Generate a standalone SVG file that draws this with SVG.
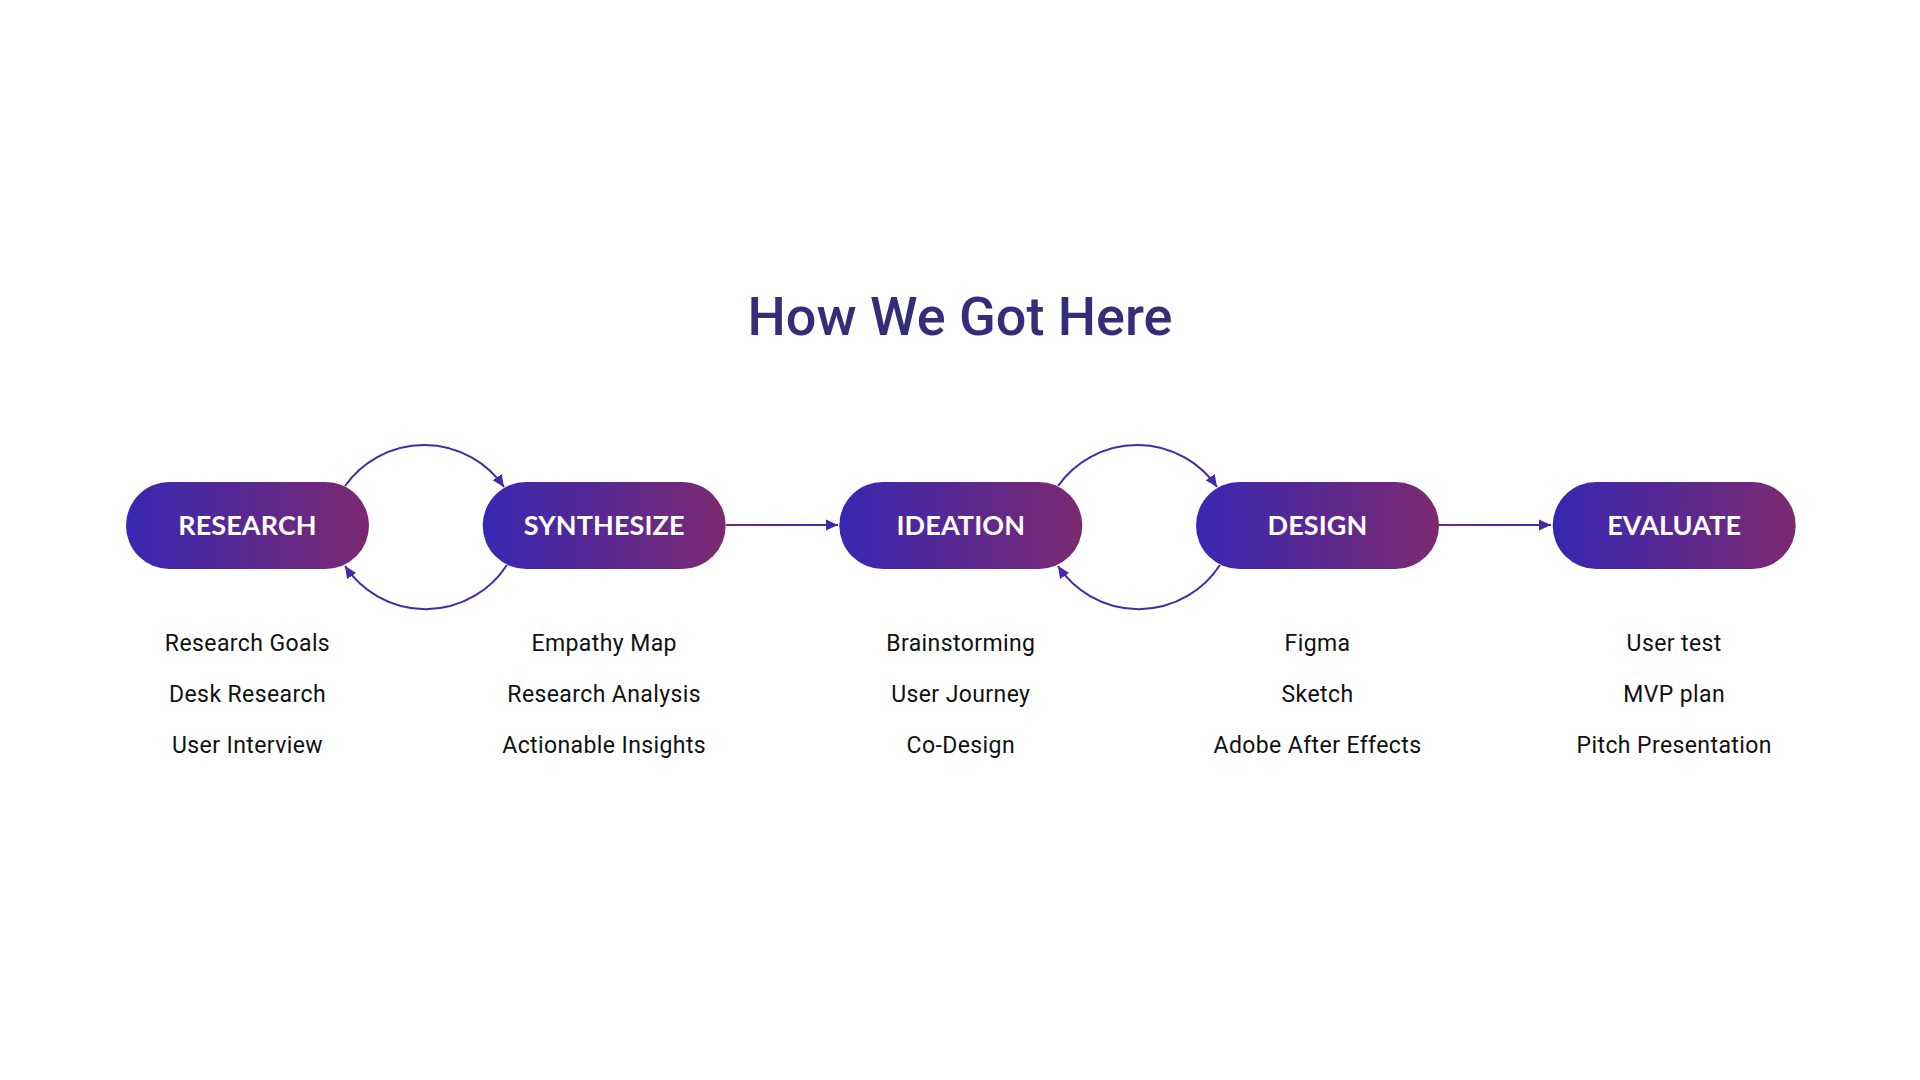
<svg xmlns="http://www.w3.org/2000/svg" width="1920" height="1080" viewBox="0 0 1920 1080">
  <defs>
    <linearGradient id="pillGrad" x1="0" y1="0" x2="1" y2="0">
      <stop offset="0" stop-color="#3827b2"/>
      <stop offset="1" stop-color="#7c2a70"/>
    </linearGradient>
    <linearGradient id="lineGrad1" gradientUnits="userSpaceOnUse" x1="726" y1="0" x2="839" y2="0">
      <stop offset="0" stop-color="#74297c"/>
      <stop offset="1" stop-color="#3b28b0"/>
    </linearGradient>
    <linearGradient id="lineGrad2" gradientUnits="userSpaceOnUse" x1="1439" y1="0" x2="1552" y2="0">
      <stop offset="0" stop-color="#74297c"/>
      <stop offset="1" stop-color="#3b28b0"/>
    </linearGradient>
    <marker id="arrow" markerUnits="userSpaceOnUse" markerWidth="13" markerHeight="13" refX="12" refY="6.5" orient="auto">
      <path d="M0,1 L12,6.5 L0,12 z" fill="#4428a8"/>
    </marker>
    <style>
      .pill { fill: url(#pillGrad); }
      .pilltext { font-family: Lato, "Open Sans", sans-serif; font-weight: 700; font-size: 27px; fill: #ffffff; text-anchor: middle; letter-spacing: 0.1px; }
      .item { font-family: Roboto, "Liberation Sans", sans-serif; font-size: 23px; fill: #111111; text-anchor: middle; letter-spacing: 0.4px; }
      .title { font-family: Roboto, "Liberation Sans", sans-serif; font-weight: 500; font-size: 54px; fill: #352c7a; text-anchor: middle; }
      .arc { fill: none; stroke: #4628a8; stroke-width: 2; }
    </style>
  </defs>
  <rect width="1920" height="1080" fill="#ffffff"/>

  <text class="title" x="960" y="335">How We Got Here</text>

  <g id="connectors">
    <path class="arc" d="M345,486 A97,97 0 0 1 504,487" marker-end="url(#arrow)"/>
    <path class="arc" d="M507,565 A97,97 0 0 1 345,566" marker-end="url(#arrow)"/>
    <line x1="726" y1="525" x2="838" y2="525" stroke="url(#lineGrad1)" stroke-width="2" marker-end="url(#arrow)"/>
    <path class="arc" d="M1058,486 A97,97 0 0 1 1217,487" marker-end="url(#arrow)"/>
    <path class="arc" d="M1220,565 A97,97 0 0 1 1058,566" marker-end="url(#arrow)"/>
    <line x1="1439" y1="525" x2="1551" y2="525" stroke="url(#lineGrad2)" stroke-width="2" marker-end="url(#arrow)"/>
  </g>

  <g id="node-research">
    <rect class="pill" x="126" y="482" width="243" height="87" rx="43.5"/>
    <text class="pilltext" x="247.5" y="535">RESEARCH</text>
    <text class="item" x="247.5" y="651">Research Goals</text>
    <text class="item" x="247.5" y="702">Desk Research</text>
    <text class="item" x="247.5" y="753">User Interview</text>
  </g>

  <g id="node-synthesize">
    <rect class="pill" x="482.7" y="482" width="243" height="87" rx="43.5"/>
    <text class="pilltext" x="604.2" y="535">SYNTHESIZE</text>
    <text class="item" x="604.2" y="651">Empathy Map</text>
    <text class="item" x="604.2" y="702">Research Analysis</text>
    <text class="item" x="604.2" y="753">Actionable Insights</text>
  </g>

  <g id="node-ideation">
    <rect class="pill" x="839.3" y="482" width="243" height="87" rx="43.5"/>
    <text class="pilltext" x="960.8" y="535">IDEATION</text>
    <text class="item" x="960.8" y="651">Brainstorming</text>
    <text class="item" x="960.8" y="702">User Journey</text>
    <text class="item" x="960.8" y="753">Co-Design</text>
  </g>

  <g id="node-design">
    <rect class="pill" x="1196" y="482" width="243" height="87" rx="43.5"/>
    <text class="pilltext" x="1317.5" y="535">DESIGN</text>
    <text class="item" x="1317.5" y="651">Figma</text>
    <text class="item" x="1317.5" y="702">Sketch</text>
    <text class="item" x="1317.5" y="753">Adobe After Effects</text>
  </g>

  <g id="node-evaluate">
    <rect class="pill" x="1552.7" y="482" width="243" height="87" rx="43.5"/>
    <text class="pilltext" x="1674.2" y="535">EVALUATE</text>
    <text class="item" x="1674.2" y="651">User test</text>
    <text class="item" x="1674.2" y="702">MVP plan</text>
    <text class="item" x="1674.2" y="753">Pitch Presentation</text>
  </g>
</svg>
